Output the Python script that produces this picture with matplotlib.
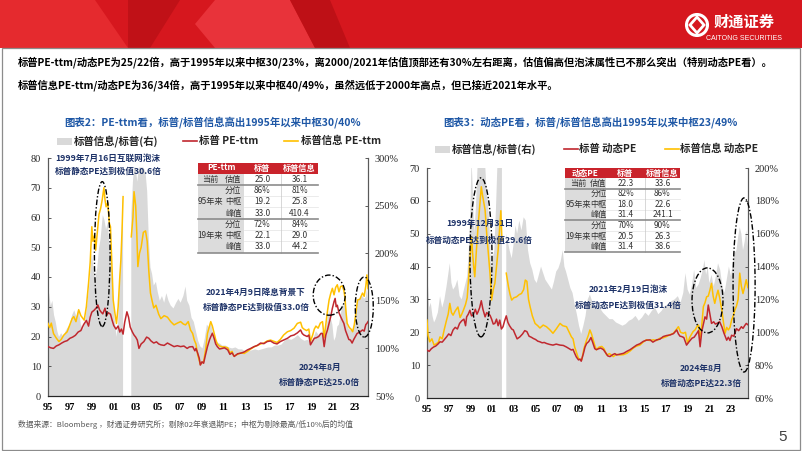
import numpy as np
import matplotlib.pyplot as plt
from matplotlib.patches import Rectangle, Ellipse, Polygon, Circle
from matplotlib.lines import Line2D

plt.rcParams['font.family'] = ['Noto Sans CJK SC', 'DejaVu Sans']
nan = np.nan

# ---------------- data ----------------
# left chart: PE-ttm (year, value)
ttm_sp = [(1995.0, 16.6), (1995.25, 16.2), (1995.5, 16.0), (1995.75, 16.8), (1996.0, 17.2), (1996.25, 17.8),
          (1996.5, 18.3), (1996.75, 18.6), (1997.0, 19.4), (1997.25, 19.8), (1997.5, 20.4), (1997.75, 21.5),
          (1998.0, 22.0), (1998.25, 24.0), (1998.5, 25.4), (1998.7, 23.5), (1998.85, 26.5), (1999.0, 28.2),
          (1999.2, 28.8), (1999.4, 29.6), (1999.55, 30.6), (1999.7, 29.0), (1999.85, 28.2), (2000.0, 27.6),
          (2000.2, 29.5), (2000.35, 27.0), (2000.5, 28.0), (2000.7, 27.5), (2000.85, 25.5), (2001.0, 23.7),
          (2001.2, 22.5), (2001.4, 23.5), (2001.55, 21.5), (2001.7, 22.5), (2001.85, 20.8), (2002.0, 24.8),
          (2002.2, 28.3), (2002.35, 26.5), (2002.5, 23.2), (2002.7, 21.5), (2002.85, 20.5), (2003.0, 19.8),
          (2003.15, 18.8), (2003.3, 16.0), (2003.5, 17.5), (2003.75, 18.3), (2004.0, 19.8), (2004.2, 19.4),
          (2004.4, 18.5), (2004.65, 17.8), (2004.9, 18.2), (2005.1, 17.5), (2005.3, 17.2), (2005.6, 17.0),
          (2005.9, 17.8), (2006.2, 17.2), (2006.5, 16.6), (2006.8, 16.9), (2007.1, 16.6), (2007.4, 16.8),
          (2007.7, 16.0), (2007.9, 16.5), (2008.2, 16.6), (2008.4, 15.2), (2008.5, 16.0), (2008.65, 14.5),
          (2008.8, 12.7), (2008.9, 10.4), (2009.05, 11.5), (2009.2, 11.0), (2009.35, 13.5), (2009.55, 16.6),
          (2009.75, 19.0), (2009.85, 19.9), (2010.0, 21.1), (2010.15, 19.5), (2010.3, 17.5), (2010.45, 16.6),
          (2010.65, 15.8), (2010.9, 16.0), (2011.1, 16.2), (2011.4, 15.5), (2011.6, 14.0), (2011.8, 14.5),
          (2012.0, 13.3), (2012.3, 14.2), (2012.6, 14.4), (2012.9, 14.8), (2013.2, 15.5), (2013.5, 16.0),
          (2013.8, 16.6), (2014.1, 17.0), (2014.4, 17.8), (2014.7, 17.6), (2015.0, 18.3), (2015.3, 18.5),
          (2015.6, 17.8), (2015.9, 17.5), (2016.2, 18.3), (2016.5, 18.8), (2016.85, 19.4), (2017.15, 20.2),
          (2017.45, 20.5), (2017.75, 21.2), (2018.05, 22.2), (2018.2, 21.0), (2018.35, 20.5), (2018.65, 20.0),
          (2018.8, 20.5), (2018.95, 17.2), (2019.15, 18.5), (2019.3, 19.4), (2019.5, 19.6), (2019.7, 20.0),
          (2019.9, 21.0), (2020.05, 21.0), (2020.2, 16.6), (2020.35, 20.5), (2020.5, 22.2), (2020.65, 24.5),
          (2020.8, 26.7), (2020.95, 29.5), (2021.1, 31.7), (2021.2, 32.8), (2021.3, 30.0), (2021.4, 30.5),
          (2021.55, 28.0), (2021.7, 26.7), (2021.85, 25.5), (2022.0, 24.4), (2022.15, 22.0), (2022.3, 20.5),
          (2022.45, 19.0), (2022.6, 18.8), (2022.75, 17.8), (2022.9, 19.0), (2023.05, 20.0), (2023.2, 21.0),
          (2023.45, 21.5), (2023.7, 22.2), (2023.85, 21.8), (2024.0, 24.0), (2024.1, 24.4), (2024.2, 25.0)]

ttm_it = [(1995.0, 24.4), (1995.15, 23.0), (1995.3, 24.5), (1995.5, 21.0), (1995.75, 19.5), (1996.0, 18.3),
          (1996.2, 19.0), (1996.45, 20.5), (1996.75, 21.6), (1997.0, 24.0), (1997.2, 26.0), (1997.35, 26.7),
          (1997.55, 25.0), (1997.8, 29.0), (1998.0, 27.0), (1998.3, 25.5), (1998.5, 30.0), (1998.7, 37.9),
          (1998.85, 45.0), (1999.0, 56.9), (1999.1, 52.0), (1999.25, 54.0), (1999.35, 49.0), (1999.5, 55.0),
          (1999.65, 61.0), (1999.8, 63.0), (1999.95, 66.0), (2000.1, 70.0), (2000.2, 66.0), (2000.3, 63.6),
          (2000.45, 65.0), (2000.6, 58.0), (2000.7, 56.9), (2000.85, 42.0), (2000.95, 32.3), (2001.1, 28.0),
          (2001.25, 24.4), (2001.4, 30.0), (2001.55, 40.0), (2001.65, 45.7), (2001.75, 55.0), (2001.85, 67.0),
          (2001.95, nan), (2002.4, nan), (2002.6, 53.5), (2002.75, 60.0), (2002.85, 68.7), (2003.0, 64.0),
          (2003.1, 55.0), (2003.2, 43.5), (2003.35, 48.0), (2003.5, 50.0), (2003.7, 55.0), (2003.9, 55.5),
          (2004.05, 52.0), (2004.2, 42.0), (2004.35, 34.6), (2004.5, 32.0), (2004.65, 29.6), (2004.85, 30.5),
          (2005.1, 27.5), (2005.3, 26.0), (2005.6, 27.0), (2005.9, 26.5), (2006.2, 25.0), (2006.5, 23.9),
          (2006.8, 24.5), (2007.1, 25.0), (2007.35, 24.2), (2007.55, 23.9), (2007.8, 25.0), (2008.0, 22.2),
          (2008.2, 21.0), (2008.35, 18.8), (2008.5, 17.5), (2008.65, 14.0), (2008.8, 12.0), (2008.9, 10.6),
          (2009.05, 11.2), (2009.2, 11.5), (2009.4, 16.0), (2009.55, 21.0), (2009.7, 23.0), (2009.85, 25.0),
          (2010.0, 23.5), (2010.1, 22.0), (2010.3, 19.0), (2010.45, 17.5), (2010.65, 16.8), (2010.9, 16.5),
          (2011.1, 16.5), (2011.4, 16.2), (2011.6, 14.5), (2011.8, 15.0), (2011.95, 13.4), (2012.3, 14.0),
          (2012.6, 14.5), (2012.9, 14.3), (2013.2, 15.0), (2013.5, 15.8), (2013.8, 16.5), (2014.1, 17.0),
          (2014.4, 17.5), (2014.7, 17.8), (2015.0, 18.5), (2015.3, 18.8), (2015.6, 18.4), (2015.9, 18.0),
          (2016.2, 19.0), (2016.5, 20.5), (2016.85, 21.6), (2017.15, 22.0), (2017.45, 22.8), (2017.75, 24.4),
          (2018.05, 24.8), (2018.2, 23.0), (2018.35, 22.5), (2018.6, 22.0), (2018.8, 22.5), (2018.95, 18.4),
          (2019.15, 20.5), (2019.3, 22.5), (2019.45, 23.5), (2019.65, 22.8), (2019.85, 24.5), (2020.05, 25.0),
          (2020.2, 19.6), (2020.35, 24.0), (2020.5, 28.5), (2020.65, 32.3), (2020.8, 34.5), (2020.95, 36.2),
          (2021.1, 34.0), (2021.25, 36.5), (2021.4, 37.4), (2021.55, 35.0), (2021.7, 36.8), (2021.85, 37.0),
          (2022.0, 35.5), (2022.1, 33.0), (2022.2, 28.0), (2022.3, 24.4), (2022.5, 23.0), (2022.65, 22.5),
          (2022.8, 21.6), (2022.95, 24.0), (2023.1, 28.0), (2023.25, 32.3), (2023.45, 32.5), (2023.7, 34.6),
          (2023.85, 33.5), (2024.0, 37.0), (2024.1, 40.7), (2024.2, 36.1)]

ttm_ratio = [(1995.0, 152), (1995.1, 158), (1995.25, 145), (1995.4, 150), (1995.55, 135), (1995.7, 128),
             (1995.85, 118), (1996.0, 112), (1996.2, 116), (1996.4, 112), (1996.6, 118), (1996.8, 122),
             (1997.0, 125), (1997.2, 135), (1997.4, 140), (1997.6, 133), (1997.8, 142), (1998.0, 125),
             (1998.2, 120), (1998.4, 130), (1998.6, 148), (1998.8, 170), (1999.0, 200), (1999.15, 185),
             (1999.3, 172), (1999.5, 185), (1999.65, 205), (1999.8, 215), (2000.0, 240), (2000.15, 235),
             (2000.3, 225), (2000.45, 232), (2000.6, 210), (2000.75, 200), (2000.9, 160), (2001.05, 135),
             (2001.25, 112), (2001.4, 128), (2001.55, 175), (2001.7, 210), (2001.85, 265), (2001.95, nan),
             (2002.5, nan), (2002.6, 240), (2002.75, 275), (2002.85, 290), (2003.0, 290), (2003.15, 275),
             (2003.3, 290), (2003.5, 290), (2003.7, 290), (2003.9, 285), (2004.05, 265), (2004.2, 215),
             (2004.35, 185), (2004.5, 178), (2004.65, 166), (2004.85, 170), (2005.0, 160), (2005.2, 150),
             (2005.4, 155), (2005.6, 148), (2005.8, 158), (2006.0, 150), (2006.2, 145), (2006.45, 142),
             (2006.7, 148), (2006.9, 152), (2007.1, 148), (2007.35, 155), (2007.55, 165), (2007.7, 150),
             (2007.9, 145), (2008.1, 132), (2008.3, 128), (2008.5, 118), (2008.7, 108), (2008.9, 102),
             (2009.1, 100), (2009.3, 110), (2009.5, 125), (2009.7, 122), (2009.9, 126), (2010.1, 112),
             (2010.3, 108), (2010.5, 106), (2010.7, 105), (2010.9, 103), (2011.2, 103), (2011.5, 101),
             (2011.8, 100), (2012.1, 101), (2012.4, 99), (2012.7, 99), (2013.0, 97), (2013.3, 97),
             (2013.6, 98), (2013.9, 99), (2014.2, 98), (2014.5, 99), (2014.8, 100), (2015.1, 101),
             (2015.4, 101), (2015.7, 103), (2016.0, 103), (2016.3, 104), (2016.6, 108), (2016.9, 110),
             (2017.2, 109), (2017.5, 111), (2017.8, 114), (2018.1, 110), (2018.4, 108), (2018.7, 109),
             (2018.95, 107), (2019.2, 110), (2019.45, 118), (2019.7, 114), (2019.9, 117), (2020.05, 118),
             (2020.2, 118), (2020.35, 120), (2020.5, 130), (2020.65, 140), (2020.8, 132), (2020.95, 125),
             (2021.1, 108), (2021.25, 112), (2021.4, 123), (2021.55, 125), (2021.7, 135), (2021.85, 145),
             (2022.0, 145), (2022.15, 150), (2022.3, 125), (2022.45, 120), (2022.6, 120), (2022.8, 118),
             (2022.95, 125), (2023.1, 140), (2023.25, 150), (2023.45, 152), (2023.7, 155), (2023.85, 152),
             (2024.0, 154), (2024.1, 163), (2024.2, 145)]

# right chart: forward PE (year, value)
fwd_sp = [(1995.0, 14.6), (1995.2, 14.2), (1995.4, 15.0), (1995.6, 15.5), (1995.8, 15.8), (1996.0, 16.4),
          (1996.2, 17.1), (1996.4, 17.0), (1996.6, 17.8), (1996.8, 18.6), (1997.0, 19.5), (1997.2, 19.0),
          (1997.4, 20.7), (1997.6, 21.5), (1997.8, 21.0), (1998.0, 22.7), (1998.2, 23.5), (1998.4, 24.0),
          (1998.55, 22.0), (1998.65, 24.7), (1998.8, 25.5), (1998.95, 26.7), (1999.1, 25.0), (1999.25, 25.2),
          (1999.45, 27.0), (1999.6, 25.5), (1999.7, 26.2), (1999.85, 27.5), (2000.0, 29.6), (2000.15, 27.0),
          (2000.35, 24.7), (2000.5, 26.0), (2000.65, 25.5), (2000.8, 25.2), (2000.95, 24.0), (2001.1, 22.5),
          (2001.25, 22.7), (2001.4, 24.0), (2001.55, 22.0), (2001.7, 23.7), (2001.85, 21.0), (2002.0, 21.7),
          (2002.15, 23.5), (2002.3, 25.0), (2002.45, 23.0), (2002.6, 22.0), (2002.8, 21.0), (2002.95, 20.7),
          (2003.1, 19.5), (2003.3, 18.0), (2003.55, 18.6), (2003.8, 19.5), (2004.0, 20.5), (2004.2, 20.2),
          (2004.4, 18.8), (2004.6, 18.5), (2004.8, 18.1), (2005.0, 17.8), (2005.2, 17.3), (2005.4, 17.1),
          (2005.6, 16.8), (2005.8, 16.9), (2006.0, 16.6), (2006.3, 16.3), (2006.6, 16.1), (2006.9, 16.4),
          (2007.25, 16.1), (2007.55, 16.0), (2007.85, 15.5), (2008.1, 15.0), (2008.3, 14.6), (2008.45, 14.8),
          (2008.6, 13.6), (2008.75, 12.5), (2008.95, 11.6), (2009.1, 11.8), (2009.2, 11.2), (2009.4, 13.5),
          (2009.55, 15.5), (2009.7, 16.6), (2009.9, 17.2), (2010.1, 18.4), (2010.25, 17.0), (2010.45, 15.0),
          (2010.6, 14.7), (2010.8, 15.0), (2011.0, 15.2), (2011.25, 14.7), (2011.5, 13.5), (2011.65, 12.8),
          (2011.85, 12.6), (2012.1, 13.2), (2012.3, 13.5), (2012.45, 13.1), (2012.7, 13.3), (2013.1, 13.6),
          (2013.4, 14.2), (2013.7, 14.7), (2014.0, 15.4), (2014.3, 16.1), (2014.6, 16.5), (2014.9, 17.2),
          (2015.2, 17.6), (2015.55, 17.7), (2015.8, 17.0), (2016.15, 17.7), (2016.45, 17.9), (2016.75, 18.7),
          (2017.05, 19.0), (2017.4, 19.2), (2017.7, 19.6), (2018.0, 20.7), (2018.15, 19.5), (2018.3, 18.8),
          (2018.45, 18.7), (2018.65, 18.4), (2018.9, 16.1), (2019.1, 17.0), (2019.4, 18.2), (2019.6, 18.5),
          (2019.85, 19.7), (2020.0, 20.5), (2020.15, 15.6), (2020.3, 20.2), (2020.45, 22.5), (2020.6, 24.7),
          (2020.75, 24.0), (2020.9, 28.3), (2021.0, 26.5), (2021.1, 24.5), (2021.2, 22.7), (2021.4, 23.2),
          (2021.55, 22.5), (2021.7, 22.7), (2021.95, 23.2), (2022.15, 21.7), (2022.35, 19.7), (2022.6, 17.6),
          (2022.75, 18.5), (2022.9, 17.5), (2023.05, 19.1), (2023.25, 18.8), (2023.5, 21.1), (2023.7, 20.5),
          (2023.95, 21.7), (2024.1, 21.2), (2024.25, 22.0), (2024.4, 22.7), (2024.55, 22.3)]

fwd_it = [(1995.0, 23.7), (1995.1, 19.0), (1995.25, 17.1), (1995.45, 18.0), (1995.65, 16.1), (1995.85, 16.5),
          (1996.05, 17.0), (1996.2, 18.6), (1996.4, 18.0), (1996.6, 21.0), (1996.8, 23.7), (1996.95, 25.5),
          (1997.1, 28.8), (1997.25, 26.0), (1997.4, 25.2), (1997.6, 26.5), (1997.85, 27.7), (1998.05, 24.5),
          (1998.2, 25.5), (1998.35, 26.7), (1998.55, 28.5), (1998.7, 30.5), (1998.8, 34.9), (1998.95, 42.0),
          (1999.1, 49.1), (1999.2, 44.0), (1999.3, 40.0), (1999.4, 36.9), (1999.55, 45.0), (1999.7, 52.1),
          (1999.85, 58.0), (2000.0, 64.3), (2000.1, 62.0), (2000.2, 60.0), (2000.35, 57.2), (2000.5, 50.0),
          (2000.65, 44.0), (2000.8, 38.0), (2000.95, 29.8), (2001.1, 33.0), (2001.25, 34.9), (2001.4, 40.0),
          (2001.55, 45.0), (2001.7, 52.0), (2001.8, 57.0), (2001.9, 48.0), (2002.0, nan), (2002.2, nan),
          (2002.3, 38.0), (2002.4, 36.0), (2002.5, 33.9), (2002.65, 31.5), (2002.8, 29.8), (2003.0, 30.5),
          (2003.25, 30.8), (2003.5, 31.5), (2003.7, 31.8), (2003.9, 33.0), (2004.05, 35.9), (2004.2, 35.5),
          (2004.35, 30.0), (2004.5, 27.7), (2004.7, 25.0), (2004.95, 22.7), (2005.2, 22.0), (2005.4, 21.3),
          (2005.7, 22.2), (2006.0, 21.7), (2006.3, 20.8), (2006.6, 19.7), (2006.9, 21.0), (2007.25, 22.7),
          (2007.5, 22.0), (2007.85, 21.7), (2008.1, 20.0), (2008.3, 18.6), (2008.45, 18.0), (2008.6, 15.5),
          (2008.8, 13.5), (2008.95, 12.0), (2009.1, 11.8), (2009.25, 11.6), (2009.45, 15.0), (2009.7, 17.7),
          (2009.85, 19.0), (2010.0, 20.7), (2010.15, 19.5), (2010.3, 17.7), (2010.45, 16.0), (2010.6, 14.7),
          (2010.85, 15.5), (2011.1, 15.7), (2011.3, 15.0), (2011.55, 13.1), (2011.8, 13.5), (2012.15, 12.6),
          (2012.45, 13.3), (2012.75, 13.1), (2013.1, 13.2), (2013.4, 13.6), (2013.7, 14.3), (2014.0, 15.2),
          (2014.3, 15.8), (2014.6, 16.1), (2014.9, 17.0), (2015.2, 17.7), (2015.5, 17.5), (2015.85, 17.7),
          (2016.15, 17.5), (2016.45, 18.2), (2016.75, 18.3), (2017.05, 18.7), (2017.4, 19.3), (2017.7, 19.7),
          (2017.95, 20.8), (2018.15, 21.7), (2018.35, 20.0), (2018.6, 19.7), (2018.8, 20.0), (2019.0, 16.6),
          (2019.2, 18.5), (2019.5, 20.2), (2019.7, 20.8), (2019.85, 21.7), (2020.0, 22.2), (2020.15, 17.6),
          (2020.3, 22.0), (2020.45, 27.8), (2020.6, 29.0), (2020.75, 30.8), (2020.9, 31.0), (2021.05, 32.8),
          (2021.2, 34.9), (2021.35, 31.0), (2021.5, 28.8), (2021.65, 31.0), (2021.8, 32.8), (2021.95, 30.5),
          (2022.15, 26.8), (2022.3, 23.0), (2022.45, 19.7), (2022.6, 21.5), (2022.75, 20.7), (2022.9, 21.5),
          (2023.05, 23.7), (2023.2, 25.0), (2023.35, 26.8), (2023.5, 28.0), (2023.65, 30.0), (2023.8, 38.0),
          (2023.95, 34.0), (2024.1, 31.8), (2024.25, 33.8), (2024.4, 36.0), (2024.55, 33.6)]

fwd_ratio = [(1995.0, 120), (1995.1, 128), (1995.2, 115), (1995.35, 118), (1995.5, 110), (1995.65, 106),
             (1995.8, 108), (1996.0, 112), (1996.2, 122), (1996.4, 115), (1996.6, 120), (1996.8, 128),
             (1996.95, 135), (1997.1, 142), (1997.25, 130), (1997.4, 126), (1997.6, 128), (1997.8, 132),
             (1998.0, 122), (1998.2, 120), (1998.4, 126), (1998.55, 130), (1998.7, 134), (1998.85, 150),
             (1999.0, 175), (1999.1, 205), (1999.2, 190), (1999.35, 160), (1999.5, 175), (1999.65, 200),
             (1999.8, 210), (2000.0, 215), (2000.15, 215), (2000.3, 210), (2000.45, 190), (2000.6, 180),
             (2000.75, 165), (2000.9, 140), (2001.05, 145), (2001.2, 150), (2001.35, 175), (2001.5, 205),
             (2001.65, 210), (2001.8, 210), (2001.9, 200), (2001.97, nan), (2002.25, nan), (2002.3, 160),
             (2002.45, 155), (2002.6, 150), (2002.8, 145), (2003.0, 155), (2003.15, 165), (2003.3, 160),
             (2003.5, 168), (2003.7, 162), (2003.9, 170), (2004.1, 168), (2004.3, 150), (2004.5, 142),
             (2004.7, 138), (2004.9, 132), (2005.1, 130), (2005.3, 135), (2005.5, 140), (2005.7, 136),
             (2005.9, 132), (2006.1, 130), (2006.3, 128), (2006.5, 126), (2006.7, 131), (2006.9, 137),
             (2007.1, 139), (2007.3, 143), (2007.5, 150), (2007.65, 140), (2007.8, 137), (2008.0, 132),
             (2008.2, 127), (2008.4, 124), (2008.6, 117), (2008.8, 111), (2009.0, 104), (2009.2, 99),
             (2009.4, 104), (2009.6, 110), (2009.8, 120), (2010.0, 123), (2010.2, 119), (2010.4, 116),
             (2010.6, 115), (2010.8, 118), (2011.0, 114), (2011.2, 112), (2011.5, 110), (2011.8, 108),
             (2012.1, 108), (2012.4, 106), (2012.7, 105), (2013.0, 104), (2013.3, 105), (2013.6, 107),
             (2013.9, 108), (2014.2, 110), (2014.5, 107), (2014.8, 109), (2015.1, 112), (2015.4, 110),
             (2015.7, 113), (2016.0, 115), (2016.3, 111), (2016.6, 113), (2016.9, 116), (2017.2, 117),
             (2017.5, 119), (2017.8, 120), (2018.1, 122), (2018.35, 118), (2018.6, 124), (2018.8, 136),
             (2019.0, 126), (2019.2, 123), (2019.4, 129), (2019.6, 138), (2019.8, 127), (2020.0, 129),
             (2020.2, 133), (2020.4, 138), (2020.55, 144), (2020.7, 135), (2020.85, 140), (2021.0, 130),
             (2021.2, 135), (2021.4, 128), (2021.6, 134), (2021.8, 142), (2022.0, 138), (2022.2, 128),
             (2022.4, 124), (2022.6, 132), (2022.8, 140), (2023.0, 134), (2023.15, 142), (2023.3, 148),
             (2023.5, 150), (2023.65, 158), (2023.8, 164), (2023.95, 160), (2024.1, 150), (2024.25, 155),
             (2024.4, 162), (2024.55, 152)]

# tables
tab_groups = ['当前', '95年来', '19年来']
tab_rows = ['估值', '分位', '中枢', '峰值', '分位', '中枢', '峰值']
ttm_tab_sp = ['25.0', '86%', '19.2', '33.0', '72%', '22.1', '33.0']
ttm_tab_it = ['36.1', '81%', '25.8', '410.4', '84%', '29.0', '44.2']
fwd_tab_sp = ['22.3', '82%', '18.0', '31.4', '70%', '20.5', '31.4']
fwd_tab_it = ['33.6', '86%', '22.6', '241.1', '90%', '26.3', '38.6']

year_ticks = list(range(1995, 2024, 2))

# ---------------- styling ----------------
W, H = 802, 451
RED = '#C0282F'
YEL = '#FFC000'
GRAY = '#D9D9D9'
NAVY = '#1C3167'
BLUE = '#1F58A6'
HDR = '#C9232B'
CJK = ['Noto Sans CJK SC', 'DejaVu Sans']

fig = plt.figure(figsize=(W / 100, H / 100), dpi=100)

ov = fig.add_axes([0, 0, 1, 1])
ov.set_xlim(0, W)
ov.set_ylim(H, 0)
ov.axis('off')
ov.set_zorder(10)


def series(pairs):
    a = np.array(pairs, dtype=float)
    return a[:, 0], a[:, 1]


def chart(box, sp, it, ratio, ylim, rlim, rstep, xmax, ellipses):
    l, t, r, b = box
    ax = fig.add_axes([l / W, 1 - b / H, (r - l) / W, (b - t) / H])
    axr = ax.twinx()
    ax.set_zorder(axr.get_zorder() + 1)
    ax.patch.set_visible(False)

    tr, vr = series(ratio)
    axr.fill_between(tr, rlim[0] - 100, vr, color=GRAY, lw=0)
    ts, vs = series(sp)
    ti, vi = series(it)
    ax.plot(ti, vi, color=YEL, lw=1.1, zorder=3)
    ax.plot(ts, vs, color=RED, lw=1.1, zorder=4)

    ax.set_xlim(1995, xmax)
    ax.set_ylim(*ylim)
    axr.set_ylim(*rlim)
    ax.set_yticks(np.arange(ylim[0], ylim[1] + 1, 10))
    rt = np.arange(rlim[0], rlim[1] + 1, rstep)
    axr.set_yticks(rt)
    axr.set_yticklabels([f'{int(v)}%' for v in rt])
    ax.set_xticks(year_ticks)
    ax.set_xticklabels([f'{y % 100:02d}' for y in year_ticks])

    for a in (ax, axr):
        a.spines['top'].set_visible(False)
        a.spines['left'].set_color('#595959')
        a.spines['right'].set_color('#595959')
        a.spines['bottom'].set_color('#262626')
        for s in ('left', 'right', 'bottom'):
            a.spines[s].set_linewidth(0.8)
        a.tick_params(axis='y', direction='in', length=2.5, width=0.6, color='#404040',
                      labelsize=7.5, pad=5, labelcolor='#262626')
    ax.tick_params(axis='x', length=0, pad=5, labelsize=7.5)
    axr.tick_params(axis='x', length=0)
    for lab in ax.get_yticklabels() + axr.get_yticklabels():
        lab.set_fontfamily('Liberation Serif')
    for lab in ax.get_xticklabels():
        lab.set_fontfamily('Liberation Serif')
        lab.set_fontweight('bold')

    for (cx, cy, w, h) in ellipses:
        ax.add_patch(Ellipse((cx, cy), w, h, fill=False, ec='black', lw=1.0,
                             ls=(0, (4, 1.5, 1, 1.5)), clip_on=False, zorder=6))
    return ax


chart((48, 158, 368, 396), ttm_sp, ttm_it, ttm_ratio, (0, 80), (50, 300), 50, 2024.2,
      [(1999.95, 47.7, 1.43, 48.7), (2020.66, 33.9, 2.92, 13.5), (2023.86, 29.9, 1.64, 20.2)])
chart((427, 168, 748, 398), fwd_sp, fwd_it, fwd_ratio, (0, 70), (60, 200), 20, 2024.56,
      [(1999.97, 42.8, 2.03, 48.4), (2020.83, 29.7, 2.85, 19.8), (2024.2, 34.4, 2.03, 53.0)])

# ---------------- header banner ----------------
ov.add_patch(Rectangle((0, 0), W, 48, color='#D6171E', lw=0, zorder=0))
ov.add_patch(Polygon([(0, 0), (95, 0), (128, 48), (0, 48)], color='#E52A2E', lw=0, zorder=0.5))
ov.add_patch(Polygon([(128, 0), (180, 0), (150, 48), (128, 48)], color='#C01117', lw=0, zorder=0.5))
ov.add_patch(Polygon([(195, 24), (215, 0), (290, 0), (315, 48), (215, 48)], color='#E8333A', lw=0, zorder=0.5))
ov.add_patch(Polygon([(290, 0), (330, 0), (350, 48), (315, 48)], color='#BE1016', lw=0, zorder=0.5))
ov.add_patch(Circle((697, 25), 10.5, fill=False, ec='white', lw=2.2, zorder=2))
ov.add_patch(Polygon([(697, 17), (704, 25), (697, 33), (690, 25)], fill=False, ec='white', lw=2.0, zorder=2))
ov.text(744, 22, '财通证券', color='white', fontsize=11, fontweight='bold', ha='center', va='center',
        family=CJK)
ov.text(744, 39, 'CAITONG SECURITIES', color='white', fontsize=5.0, ha='center', va='center',
        family='Liberation Sans')

# page frame
ov.add_patch(Rectangle((1.5, 48), W - 3.5, H - 49.5, fill=False, ec='#8C8C8C', lw=0.9, zorder=1))

# ---------------- body text ----------------
ov.text(18, 62, '标普PE-ttm/动态PE为25/22倍，高于1995年以来中枢30/23%，离2000/2021年估值顶部还有30%左右距离，'
        '估值偏高但泡沫属性已不那么突出（特别动态PE看）。', fontsize=7.4, fontweight='bold', va='center',
        family=CJK)
ov.text(18, 85, '标普信息PE-ttm/动态PE为36/34倍，高于1995年以来中枢40/49%，虽然远低于2000年高点，但已接近2021年水平。',
        fontsize=7.4, fontweight='bold', va='center', family=CJK)

ov.text(213, 122, '图表2：PE-ttm看，标普/标普信息高出1995年以来中枢30/40%', fontsize=7.5, fontweight='bold',
        color=BLUE, ha='center', va='center', family=CJK)
ov.text(590, 122, '图表3：动态PE看，标普/标普信息高出1995年以来中枢23/49%', fontsize=7.5, fontweight='bold',
        color=BLUE, ha='center', va='center', family=CJK)


def legend(y, items):
    (gx, tx1, txt1), (rx, tx2, txt2), (yx, tx3, txt3) = items
    ov.add_patch(Rectangle((gx, y - 3.5), 15, 7, color=GRAY, lw=0, zorder=2))
    ov.add_line(Line2D([rx, rx + 14], [y, y], color=RED, lw=1.2, zorder=2))
    ov.add_line(Line2D([yx, yx + 14], [y, y], color=YEL, lw=1.2, zorder=2))
    for x, s in ((tx1, txt1), (tx2, txt2), (tx3, txt3)):
        ov.text(x, y, s, fontsize=7.5, fontweight='bold', va='center', family=CJK, color='#262626')


legend(141, [(57, 74, '标普信息/标普(右)'), (183, 199, '标普 PE-ttm'), (284, 301, '标普信息 PE-ttm')])
legend(149, [(435, 452, '标普信息/标普(右)'), (564, 579, '标普 动态PE'), (665, 680, '标普信息 动态PE')])


def table(xe, top, hh, rh, title, sp_vals, it_vals):
    x0, x1, x2, x3, x4 = xe
    y0 = top + hh
    ov.add_patch(Rectangle((x0, top), x4 - x0, hh, color=HDR, lw=0, zorder=3))
    ov.add_patch(Rectangle((x0, y0), x4 - x0, rh * 7, color='white', lw=0, zorder=3))
    ov.add_patch(Rectangle((x0, y0), x2 - x0, rh * 7, color='#DCDCDC', lw=0, zorder=3))
    hc = top + hh / 2
    for x, s in (((x0 + x2) / 2, title), ((x2 + x3) / 2, '标普'), ((x3 + x4) / 2, '标普信息')):
        ov.text(x, hc, s, color='white', fontsize=5.9, fontweight='bold', ha='center', va='center',
                family=CJK, zorder=4)
    for i in range(7):
        yc = y0 + rh * (i + 0.5)
        ov.text((x1 + x2) / 2, yc, tab_rows[i], fontsize=5.9, ha='center', va='center', family=CJK,
                color='#333333', zorder=4)
        ov.text((x2 + x3) / 2, yc, sp_vals[i], fontsize=5.9, ha='center', va='center', family=CJK,
                color='#333333', zorder=4)
        ov.text((x3 + x4) / 2, yc, it_vals[i], fontsize=5.9, ha='center', va='center', family=CJK,
                color='#333333', zorder=4)
        if i not in (0, 3, 6):
            ov.add_line(Line2D([x2, x4], [y0 + rh * (i + 1)] * 2, color='#E3E3E3', lw=0.5, zorder=4))
    for g, (a, bb) in zip(tab_groups, ((0, 1), (1, 4), (4, 7))):
        ov.text((x0 + x1) / 2, y0 + rh * (a + bb) / 2, g, fontsize=5.9, ha='center', va='center',
                family=CJK, color='#333333', zorder=4)
        ov.add_line(Line2D([x0, x4], [y0 + rh * bb] * 2, color='#8C8C8C', lw=1.2, zorder=5))
    ov.add_line(Line2D([x3, x3], [y0, y0 + rh * 7], color='#C8C8C8', lw=0.5, zorder=4))


table((198, 222, 244, 281, 318), 162.5, 11, 11.3, 'PE-ttm', ttm_tab_sp, ttm_tab_it)
table((565, 591, 606, 645, 680), 168, 10, 10.57, '动态PE', fwd_tab_sp, fwd_tab_it)

# ---------------- annotations ----------------
notes = [('1999年7月16日互联网泡沫', 108, 158), ('标普静态PE达到极值30.6倍', 108, 171),
         ('2021年4月9日降息背景下', 256, 292), ('标普静态PE达到极值33.0倍', 256, 307),
         ('2024年8月', 320, 367), ('标普静态PE达25.0倍', 319, 382),
         ('1999年12月31日', 480, 223), ('标普动态PE达到极值29.6倍', 479, 240),
         ('2021年2月19日泡沫', 628, 289), ('标普动态PE达到极值31.4倍', 628, 305),
         ('2024年8月', 701, 368), ('标普动态PE达22.3倍', 701, 383)]
for s, x, y in notes:
    ov.text(x, y, s, fontsize=6.2, fontweight='bold', color=NAVY, ha='center', va='center', family=CJK)

# ---------------- footer ----------------
ov.text(18, 424, '数据来源：Bloomberg ，财通证券研究所；剔除02年衰退期PE；中枢为剔除最高/低10%后的均值',
        fontsize=5.6, color='#595959', va='center', family=CJK)
ov.text(783, 437, '5', fontsize=11, color='#404040', ha='center', va='center', family='Liberation Sans')

fig.savefig('out.png', dpi=100)
